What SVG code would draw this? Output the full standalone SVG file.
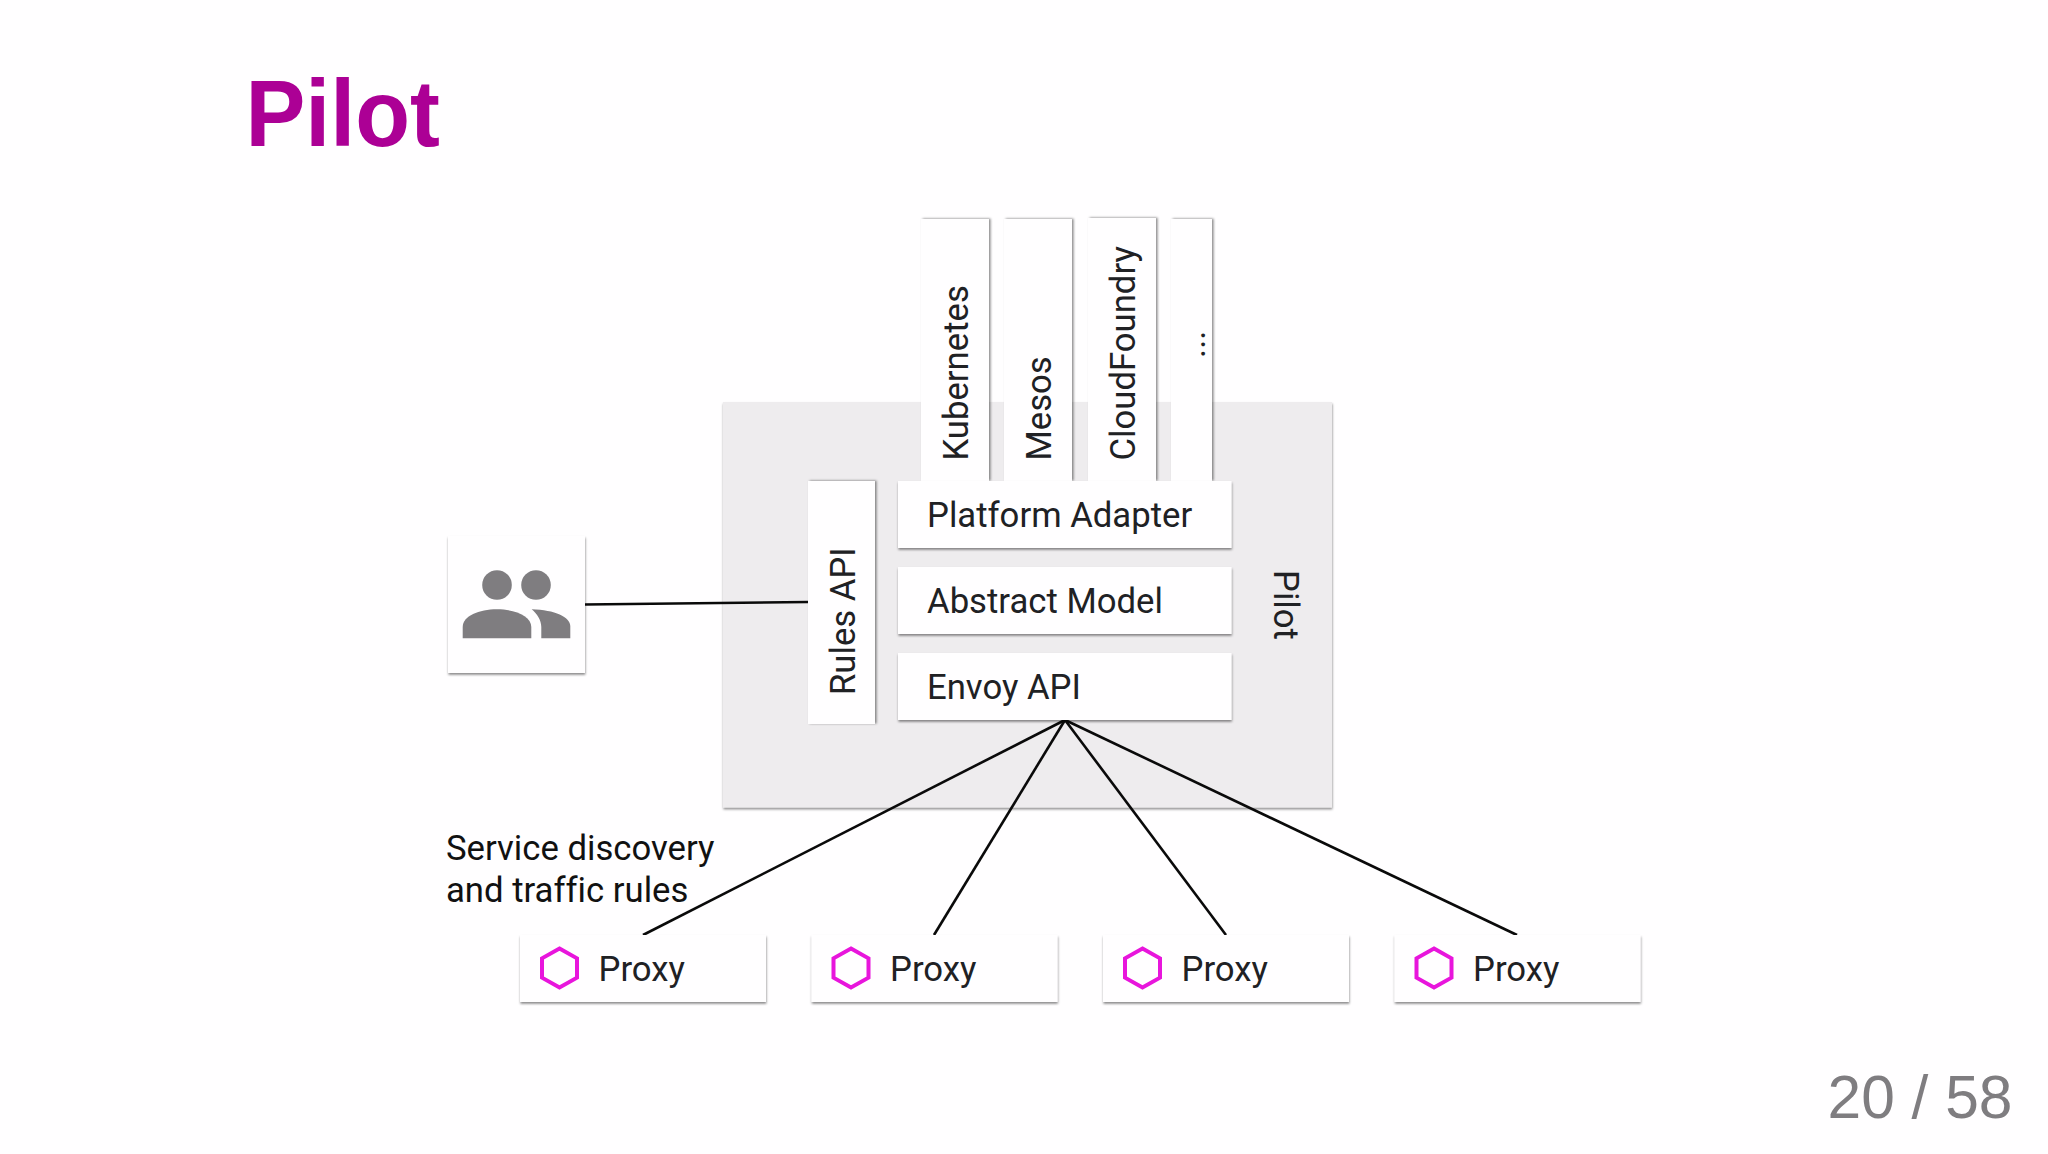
<svg xmlns="http://www.w3.org/2000/svg" width="2048" height="1154" viewBox="0 0 2048 1154">
  <style>
    .card { fill: #fffeff; filter: url(#sh); }
    .card-v { fill: #fffeff; filter: url(#shv); }
    .lbl { font-family: Roboto, "Liberation Sans", sans-serif; font-size: 34.7px; fill: #202124; }
    .cap { font-family: Roboto, "Liberation Sans", sans-serif; font-size: 34.7px; fill: #111; font-variant-ligatures: none; }
    .conn { stroke: #0a0a0a; stroke-width: 2.6; fill: none; }
    .hex { fill: none; stroke: #e815dc; stroke-width: 4; }
    .icon { fill: #7f7d80; }
  </style>
  <defs>
    <filter id="sh" x="-10%" y="-10%" width="120%" height="120%">
      <feDropShadow dx="0.4" dy="1.8" stdDeviation="1.2" flood-color="#000" flood-opacity="0.45"/>
    </filter>
    <filter id="shv" x="-10%" y="-10%" width="120%" height="120%">
      <feDropShadow dx="1.6" dy="-0.4" stdDeviation="1.2" flood-color="#000" flood-opacity="0.45"/>
    </filter>
    <polygon id="hexagon" points="0,-19.5 17.5,-9.7 17.5,9.7 0,19.5 -17.5,9.7 -17.5,-9.7" class="hex"/>
  </defs>
  <rect width="2048" height="1154" fill="#fffeff"/>
  <text transform="translate(245.5 145.7) scale(0.955 1)" font-family="'Liberation Sans', Arial, sans-serif" font-weight="700" font-size="94" fill="#ac0095">Pilot</text>
  <g id="node-pilot">
    <rect x="723" y="402" width="609" height="405.5" fill="#eeecee" filter="url(#sh)"/>
    <text transform="translate(1274 570) rotate(90)" class="lbl">Pilot</text>
  </g>
  <g id="connectors">
    <line class="conn" x1="585" y1="604.5" x2="808" y2="602"/>
    <line class="conn" x1="1065" y1="720" x2="643" y2="935"/>
    <line class="conn" x1="1065" y1="720" x2="934" y2="935"/>
    <line class="conn" x1="1065" y1="720" x2="1226" y2="935"/>
    <line class="conn" x1="1065" y1="720" x2="1517" y2="935"/>
  </g>
  <g id="node-kubernetes">
    <rect class="card-v" x="921" y="219" width="68" height="262"/>
    <text transform="translate(968 460.5) rotate(-90)" class="lbl">Kubernetes</text>
  </g>
  <g id="node-mesos">
    <rect class="card-v" x="1004" y="219" width="68" height="262"/>
    <text transform="translate(1051 460.5) rotate(-90)" class="lbl">Mesos</text>
  </g>
  <g id="node-cloudfoundry">
    <rect class="card-v" x="1088" y="218" width="68" height="263"/>
    <text transform="translate(1135 460.5) rotate(-90)" class="lbl">CloudFoundry</text>
  </g>
  <g id="node-more">
    <rect class="card-v" x="1171" y="219" width="41" height="262"/>
    <text transform="translate(1205 358) rotate(-90)" class="lbl">...</text>
  </g>
  <g id="node-rules-api">
    <rect class="card-v" x="808" y="481" width="67" height="243"/>
    <text transform="translate(855 695) rotate(-90)" class="lbl">Rules API</text>
  </g>
  <g id="node-platform-adapter">
    <rect class="card" x="898" y="481" width="333.5" height="67"/>
    <text x="927" y="527" class="lbl">Platform Adapter</text>
  </g>
  <g id="node-abstract-model">
    <rect class="card" x="898" y="567" width="333.5" height="67"/>
    <text x="927" y="613" class="lbl">Abstract Model</text>
  </g>
  <g id="node-envoy-api">
    <rect class="card" x="898" y="653" width="333.5" height="67"/>
    <text x="927" y="699" class="lbl">Envoy API</text>
  </g>
  <g id="node-users">
    <rect class="card" x="448" y="536" width="137" height="137"/>
    <g class="icon">
      <circle cx="497" cy="585" r="14.8"/>
      <circle cx="536" cy="585" r="14.8"/>
      <path d="M462.7 638.3V627C462.7 616 479 609.3 497 609.3S531.3 616 531.3 627V638.3Z"/>
      <path d="M531.7 609.3C555 610 570.3 617 570.3 626V638.3H541.3V627C541.3 620 537 614 531.7 609.3Z"/>
    </g>
  </g>
  <g id="note">
    <text x="446" y="859.5" class="cap">Service discovery</text>
    <text x="446" y="901.5" class="cap">and traffic rules</text>
  </g>
  <g id="node-proxy-1">
    <rect class="card" x="520" y="935" width="246" height="67"/>
    <use href="#hexagon" x="559.5" y="968"/>
    <text x="598.5" y="981" class="lbl">Proxy</text>
  </g>
  <g id="node-proxy-2">
    <rect class="card" x="811.5" y="935" width="246" height="67"/>
    <use href="#hexagon" x="851" y="968"/>
    <text x="890" y="981" class="lbl">Proxy</text>
  </g>
  <g id="node-proxy-3">
    <rect class="card" x="1103" y="935" width="246" height="67"/>
    <use href="#hexagon" x="1142.5" y="968"/>
    <text x="1181.5" y="981" class="lbl">Proxy</text>
  </g>
  <g id="node-proxy-4">
    <rect class="card" x="1394.5" y="935" width="246" height="67"/>
    <use href="#hexagon" x="1434" y="968"/>
    <text x="1473" y="981" class="lbl">Proxy</text>
  </g>
  <text x="1827.5" y="1118" font-family="'Liberation Sans', Arial, sans-serif" font-size="60.5" fill="#7f7d80">20 / 58</text>
</svg>
